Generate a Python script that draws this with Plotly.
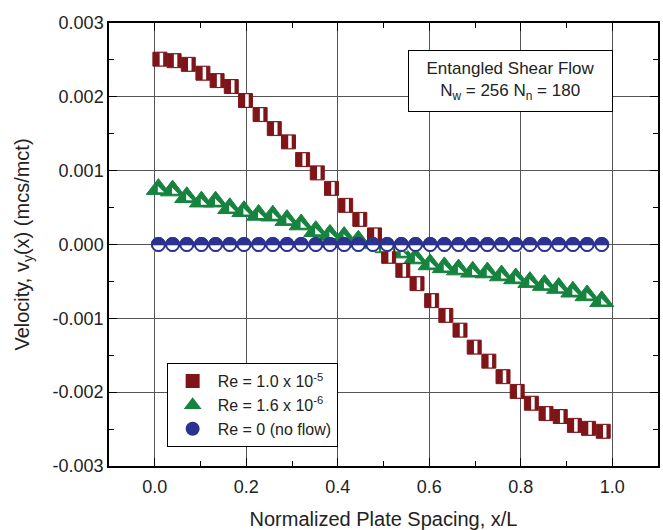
import plotly.graph_objects as go

# ---- data ----
x_pos = [0.008, 0.039, 0.070, 0.102, 0.133, 0.164, 0.195, 0.227, 0.258, 0.289,
         0.320, 0.352, 0.383, 0.414, 0.445, 0.477, 0.508, 0.539, 0.570, 0.602,
         0.633, 0.664, 0.695, 0.727, 0.758, 0.789, 0.820, 0.852, 0.883, 0.914,
         0.945, 0.977]

v_re1e5 = [0.00251, 0.00249, 0.00244, 0.00232, 0.00222, 0.00214, 0.00195, 0.00176,
           0.00157, 0.00139, 0.00115, 0.00097, 0.00076, 0.00053, 0.00034, 0.00013,
           -0.00016, -0.00035, -0.00053, -0.00076, -0.00096, -0.00116, -0.00139, -0.00158,
           -0.00179, -0.00199, -0.00215, -0.00229, -0.00233, -0.00245, -0.00249, -0.00253]

v_re16e6 = [0.00075, 0.00073, 0.00064, 0.00058, 0.00058, 0.00049, 0.00045, 0.00040,
            0.00039, 0.00033, 0.00027, 0.00018, 0.00013, 0.00010, 0.00005, 0.00002,
            -0.00004, -0.00011, -0.00019, -0.00027, -0.00031, -0.00034, -0.00037, -0.00038,
            -0.00042, -0.00046, -0.00051, -0.00055, -0.00059, -0.00064, -0.00069, -0.00077]

v_re0 = [0.00000, 0.00000, 0.00000, 0.00000, 0.00000, 0.00000, 0.00000, 0.00000,
         0.00000, 0.00000, 0.00000, 0.00000, 0.00000, 0.00000, 0.00000, 0.00000,
         0.00000, 0.00000, 0.00000, 0.00000, 0.00000, 0.00000, 0.00000, 0.00000,
         0.00000, 0.00000, 0.00000, 0.00000, 0.00000, 0.00000, 0.00000, 0.00000]

series_names = ["Re = 1.0 x 10<sup>-5</sup>", "Re = 1.6 x 10<sup>-6</sup>", "Re = 0 (no flow)"]

y_tickvals = [-0.003, -0.002, -0.001, 0.0, 0.001, 0.002, 0.003]
y_ticktext = ["-0.003", "-0.002", "-0.001", "0.000", "0.001", "0.002", "0.003"]
x_tickvals = [0.0, 0.2, 0.4, 0.6, 0.8, 1.0]
x_ticktext = ["0.0", "0.2", "0.4", "0.6", "0.8", "1.0"]

RED = "#7f1518"
GREEN = "#16833f"
BLUE = "#2b3290"
FONT = "Liberation Sans, Arial, sans-serif"
TXT = "#222222"

XR = [-0.1, 1.1]
YR = [-0.003, 0.003]
# plot area size in px (used only to offset the small inner marker details)
PW, PH = 551, 443
dx = (XR[1] - XR[0]) / PW
dy = (YR[1] - YR[0]) / PH

fig = go.Figure()

# green triangles (filled, small white sliver on the right)
fig.add_trace(go.Scatter(x=x_pos, y=v_re16e6, mode="markers", name=series_names[1],
                         legendrank=2,
                         marker=dict(symbol="triangle-up", size=21, color=GREEN,
                                     line=dict(color=GREEN, width=1))))
fig.add_trace(go.Scatter(x=x_pos, y=v_re16e6, mode="markers", showlegend=False,
                         xaxis="x2", yaxis="y2", hoverinfo="skip",
                         marker=dict(symbol="triangle-sw", size=7, color="white",
                                     line=dict(width=0))))

# red squares (filled, white bar on the right)
fig.add_trace(go.Scatter(x=x_pos, y=v_re1e5, mode="markers", name=series_names[0],
                         legendrank=1, xaxis="x2", yaxis="y4",
                         marker=dict(symbol="square", size=14, color=RED,
                                     line=dict(color=RED, width=1))))
fig.add_trace(go.Scatter(x=x_pos, y=v_re1e5, mode="markers", showlegend=False,
                         xaxis="x3", yaxis="y4", hoverinfo="skip",
                         marker=dict(symbol="line-ns", size=9,
                                     line=dict(color="white", width=3.5))))

# blue circles: upper half filled, lower half white
fig.add_trace(go.Scatter(x=x_pos, y=v_re0, mode="markers", name=series_names[2],
                         legendrank=3, xaxis="x4", yaxis="y5",
                         marker=dict(symbol="circle", size=13, color=BLUE,
                                     line=dict(color=BLUE, width=2))))
fig.add_trace(go.Scatter(x=x_pos, y=v_re0, mode="markers", showlegend=False,
                         xaxis="x4", yaxis="y6", hoverinfo="skip",
                         marker=dict(symbol="line-ew", size=8.6,
                                     line=dict(color="white", width=6))))
fig.add_trace(go.Scatter(x=x_pos, y=v_re0, mode="markers", showlegend=False,
                         xaxis="x5", yaxis="y5", hoverinfo="skip",
                         marker=dict(symbol="circle-open", size=13, color=BLUE,
                                     line=dict(color=BLUE, width=2))))

axis_common = dict(showline=True, linecolor="black", linewidth=1.5, mirror="allticks",
                   ticks="inside", ticklen=8, tickwidth=1.2, tickcolor="black",
                   showgrid=True, gridcolor="#555555", gridwidth=1.2, zeroline=False,
                   tickfont=dict(family=FONT, size=18, color=TXT))

fig.update_layout(
    width=663, height=530,
    margin=dict(l=109, r=3, t=23, b=64),
    paper_bgcolor="white", plot_bgcolor="white",
    font=dict(family=FONT, size=17, color=TXT),
    xaxis=dict(range=XR, tickvals=x_tickvals, ticktext=x_ticktext,
               ticklabelstandoff=4,
               minor=dict(dtick=0.1, tick0=0, ticks="inside", ticklen=5, tickcolor="black",
                          showgrid=False),
               title=dict(text="Normalized Plate Spacing, x/L",
                          font=dict(family=FONT, size=20, color=TXT), standoff=16),
               **axis_common),
    yaxis=dict(range=YR, tickvals=y_tickvals, ticktext=y_ticktext,
               minor=dict(dtick=0.0005, tick0=0, ticks="inside", ticklen=5, tickcolor="black",
                          showgrid=False),
               title=dict(text="Velocity, v<sub>y</sub>(x) (mcs/mct)",
                          font=dict(family=FONT, size=20, color=TXT), standoff=18),
               **axis_common),
    # overlay axes; some shift the inner white marker details by a few pixels
    xaxis2=dict(overlaying="x", range=[XR[0] - 1.5 * dx, XR[1] - 1.5 * dx], visible=False),
    yaxis2=dict(overlaying="y", range=[YR[0] + 1.0 * dy, YR[1] + 1.0 * dy], visible=False),
    xaxis3=dict(overlaying="x", range=[XR[0] - 3.0 * dx, XR[1] - 3.0 * dx], visible=False),
    xaxis4=dict(overlaying="x", range=XR, visible=False),
    yaxis4=dict(overlaying="y", range=YR, visible=False),
    xaxis5=dict(overlaying="x", range=XR, visible=False),
    yaxis5=dict(overlaying="y", range=YR, visible=False),
    yaxis6=dict(overlaying="y", range=[YR[0] + 3.8 * dy, YR[1] + 3.8 * dy], visible=False),
    legend=dict(x=0.105, y=0.232, xanchor="left", yanchor="top",
                bordercolor="black", borderwidth=1, bgcolor="white",
                font=dict(family=FONT, size=16, color=TXT),
                tracegroupgap=0, itemsizing="constant", itemwidth=40),
    showlegend=True,
    annotations=[dict(xref="paper", yref="paper", x=0.732, y=0.869,
                      xanchor="center", yanchor="middle", showarrow=False,
                      text="Entangled Shear Flow<br>N<sub>w</sub> = 256 N<sub>n</sub> = 180",
                      font=dict(family=FONT, size=17, color=TXT),
                      bordercolor="black", borderwidth=1, borderpad=8, bgcolor="white",
                      width=187, align="center")],
)

fig.write_html("out.html")
